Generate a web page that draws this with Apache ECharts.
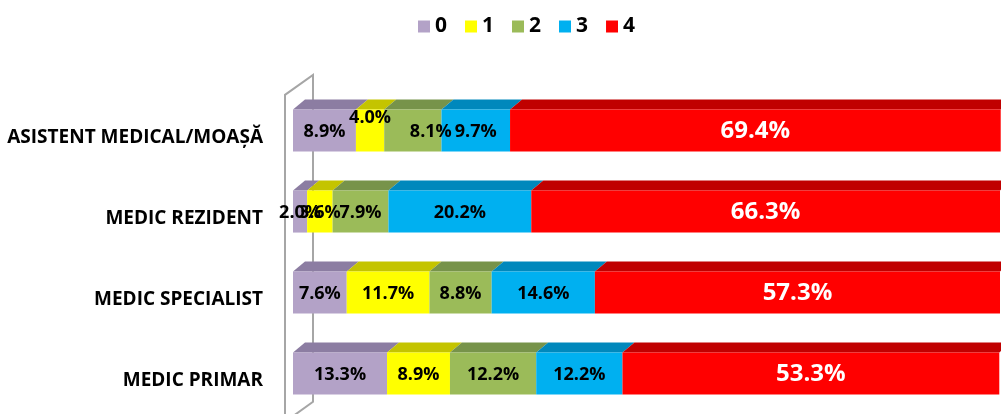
<!DOCTYPE html>
<html>
<head>
<meta charset="utf-8">
<script src="https://cdn.jsdelivr.net/npm/echarts@6/dist/echarts.min.js"></script>
<style>html,body{margin:0;padding:0;background:#fff}#c{width:1001px;height:414px}</style>
</head>
<body>
<div id="c"></div>
<script>
const categories = ['ASISTENT MEDICAL/MOAȘĂ', 'MEDIC REZIDENT', 'MEDIC SPECIALIST', 'MEDIC PRIMAR'];
const levels = ['0', '1', '2', '3', '4'];
const s0 = [8.9, 2.0, 7.6, 13.3];
const s1 = [4.0, 3.6, 11.7, 8.9];
const s2 = [8.1, 7.9, 8.8, 12.2];
const s3 = [9.7, 20.2, 14.6, 12.2];
const s4 = [69.4, 66.3, 57.3, 53.3];

const seriesValues = [s0, s1, s2, s3, s4];
const frontColors = ['#B3A2C7', '#FFFF00', '#9BBB59', '#00B0F0', '#FF0000'];
const topColors = ['#8C7DA2', '#C4C400', '#77934A', '#0088BC', '#C00000'];
const labelColors = ['#000', '#000', '#000', '#000', '#fff'];
const labelSizes = [18, 18, 18, 18, 24];
const FONT = '"Open Sans", "Noto Sans", sans-serif';
const DX = 12, DY = 10;
// small label nudges (series index -> category index -> [dx, dy]) as placed in the original
const labelNudge = { 1: { 0: [0, -14] }, 2: { 0: [18, 0] } };

const cum = categories.map(() => 0);
const barSeries = seriesValues.map((vals, si) => {
  const data = vals.map((v, ci) => {
    const start = cum[ci];
    cum[ci] += v;
    return [ci, start, start + v, v];
  });
  return {
    type: 'custom',
    name: levels[si],
    itemStyle: { color: frontColors[si] },
    z: 2,
    encode: { x: [1, 2], y: 0 },
    data: data,
    renderItem: function (params, api) {
      const cat = api.value(0);
      const p0 = api.coord([api.value(1), cat]);
      const p1 = api.coord([api.value(2), cat]);
      const band = api.size([0, 1])[1];
      const h = band * 0.52;
      const yt = p0[1] - h / 2;
      const x0 = p0[0], x1 = p1[0];
      const nudge = (labelNudge[si] && labelNudge[si][cat]) || [0, 0];
      return {
        type: 'group',
        children: [
          {
            type: 'polygon',
            shape: { points: [[x0, yt], [x1, yt], [x1 + DX, yt - DY], [x0 + DX, yt - DY]] },
            style: { fill: topColors[si] }
          },
          {
            type: 'rect',
            shape: { x: x0, y: yt, width: x1 - x0, height: h },
            style: { fill: frontColors[si] }
          },
          {
            type: 'text',
            z2: 100,
            style: {
              text: api.value(3).toFixed(1) + '%',
              x: (x0 + x1) / 2 + nudge[0],
              y: p0[1] + 1 + nudge[1],
              align: 'center',
              verticalAlign: 'middle',
              fill: labelColors[si],
              font: 'bold ' + labelSizes[si] + 'px ' + FONT
            }
          }
        ]
      };
    }
  };
});

const wallSeries = {
  type: 'custom',
  z: 1,
  silent: true,
  encode: { x: 0, y: 1 },
  data: [[0, 0]],
  renderItem: function (params, api) {
    const first = api.coord([0, 0]);
    const last = api.coord([0, categories.length - 1]);
    const band = api.size([0, 1])[1];
    const xf = first[0] - 8, xb = first[0] + 20;
    const yTopF = first[1] - band * 0.44, yTopB = yTopF - 20;
    const yBotB = last[1] + band * 0.35, yBotF = yBotB + 20;
    const st = { stroke: '#A6A6A6', lineWidth: 2, fill: null };
    return {
      type: 'group',
      children: [
        { type: 'polyline', shape: { points: [[xf, yBotF + 10], [xf, yTopF], [xb, yTopB], [xb, yBotB], [xf, yBotF]] }, style: st }
      ]
    };
  }
};

const chart = echarts.init(document.getElementById('c'), null, { renderer: 'canvas' });
chart.setOption({
  animation: false,
  backgroundColor: '#fff',
  legend: {
    data: levels.map((n, i) => ({ name: n, icon: 'rect', itemStyle: { color: frontColors[i] } })),
    top: 11,
    left: 413,
    itemWidth: 12,
    itemHeight: 12,
    itemGap: 18,
    textStyle: { fontFamily: FONT, fontWeight: 'bold', fontSize: 21, color: '#000' }
  },
  grid: { left: 293, right: 1, top: 90, height: 325, containLabel: false },
  xAxis: { type: 'value', min: 0, max: 100, show: false },
  yAxis: {
    type: 'category',
    data: categories,
    inverse: true,
    axisLine: { show: false },
    axisTick: { show: false },
    splitLine: { show: false },
    axisLabel: {
      margin: 30,
      formatter: function (v) { return '{a|' + v + '}'; },
      rich: {
        a: {
          color: '#000',
          fontFamily: FONT,
          fontWeight: 'bold',
          fontSize: 19,
          padding: [14, 0, 0, 0]
        }
      }
    }
  },
  series: [wallSeries].concat(barSeries)
});
</script>
</body>
</html>
